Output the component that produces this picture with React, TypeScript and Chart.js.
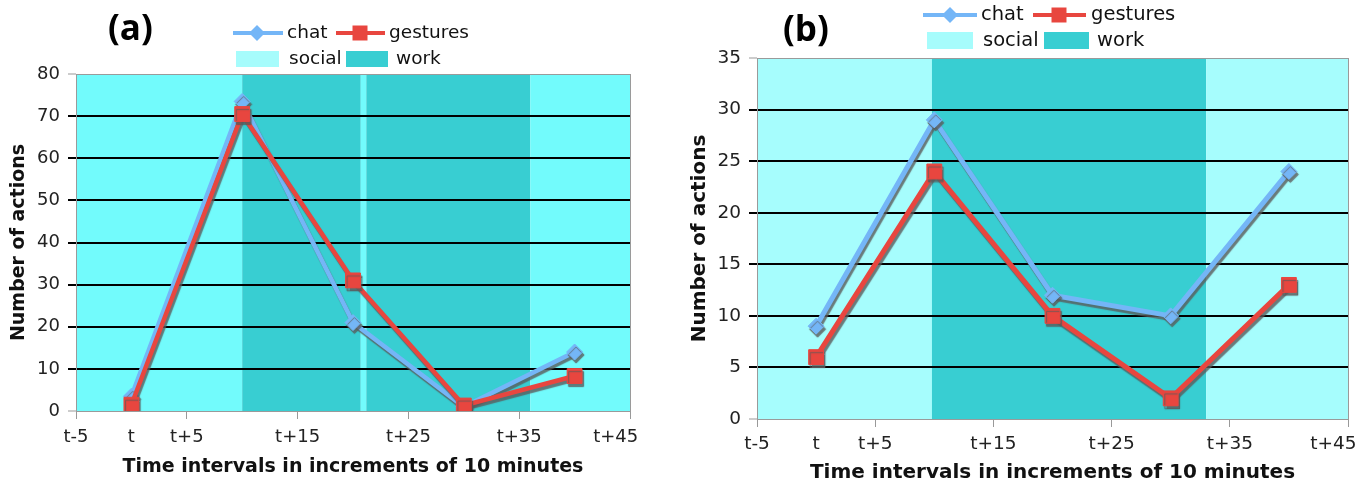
import React, { useEffect, useRef } from 'react';
import { Chart, registerables } from 'chart.js';

Chart.register(...registerables);

// ---------- data ----------
const timeOffsets = [0, 10, 20, 30, 40];
const chatA = [3.5, 73.5, 21, 1, 14];
const gesturesA = [1.5, 70.5, 31, 1.3, 8.3];
const chatB = [9, 29, 12, 10, 24];
const gesturesB = [6, 24, 10, 2, 13];
const tickValues = [-5, 0, 5, 15, 25, 35, 45];
const tickLabels = ['t-5', 't', 't+5', 't+15', 't+25', 't+35', 't+45'];
const seriesNames = ['chat', 'gestures'];
const phaseNames = ['social', 'work'];
// [phase, from, to] in minutes offset
const phasesA: [string, number, number][] = [
  ['social', -5, 10],
  ['work', 10, 20.7],
  ['social', 20.7, 21.2],
  ['work', 21.2, 36],
  ['social', 36, 45],
];
const phasesB: [string, number, number][] = [
  ['social', -5, 9.8],
  ['work', 9.8, 33],
  ['social', 33, 45],
];

// ---------- styles ----------
const CHAT = '#74b6f7';
const GEST = '#e8463f';
const WORK = '#38ced2';
const SOCIAL_LEGEND = '#a6fcfc';
const FONT = '"DejaVu Sans", Verdana, sans-serif';

type Panel = {
  label: string;
  chat: number[];
  gestures: number[];
  phases: [string, number, number][];
  socialColor: string;
  yMax: number;
  yStep: number;
  W: number;
  area: { left: number; right: number; top: number; bottom: number };
  tickFont: number;
  titleFont: number;
  legendFont: number;
  xTickPad: number;
  xTitlePad: number;
  lineWidth: number;
  legend: {
    title: [number, number];
    row1: number;
    row2: number;
    chatLine: [number, number, number];
    chatText: number;
    gestLine: [number, number, number];
    gestText: number;
    swY: [number, number];
    socialSw: [number, number];
    socialText: number;
    workSw: [number, number];
    workText: number;
  };
};

const panels: Panel[] = [
  {
    label: '(a)',
    chat: chatA,
    gestures: gesturesA,
    phases: phasesA,
    socialColor: '#72fbfc',
    yMax: 80,
    yStep: 10,
    W: 680,
    area: { left: 76, right: 630, top: 74, bottom: 411 },
    tickFont: 18,
    titleFont: 19,
    legendFont: 18.5,
    xTickPad: 8,
    xTitlePad: 7,
    lineWidth: 4.5,
    legend: {
      title: [108, 30],
      row1: 33,
      row2: 59,
      chatLine: [233, 283, 257],
      chatText: 287,
      gestLine: [336, 385, 360],
      gestText: 389,
      swY: [51, 67],
      socialSw: [236, 279],
      socialText: 289,
      workSw: [346, 388],
      workText: 396,
    },
  },
  {
    label: '(b)',
    chat: chatB,
    gestures: gesturesB,
    phases: phasesB,
    socialColor: '#a6fdfd',
    yMax: 35,
    yStep: 5,
    W: 687,
    area: { left: 77, right: 668, top: 58, bottom: 419 },
    tickFont: 18.5,
    titleFont: 20,
    legendFont: 19.5,
    xTickPad: 6,
    xTitlePad: 0,
    lineWidth: 5,
    legend: {
      title: [103, 31],
      row1: 15,
      row2: 41,
      chatLine: [243, 297, 270],
      chatText: 301,
      gestLine: [353, 406, 379],
      gestText: 411,
      swY: [32, 49],
      socialSw: [247, 293],
      socialText: 303,
      workSw: [364, 409],
      workText: 417,
    },
  },
];

const H = 485;
const PAD_LAST = '\u00a0'.repeat(5);

function PanelChart({ p }: { p: Panel }) {
  const ref = useRef<HTMLCanvasElement | null>(null);
  useEffect(() => {
    if (!ref.current) return;
    const phaseColor = (name: string) => (name === 'work' ? WORK : p.socialColor);

    const decor = {
      id: 'decor' + p.label,
      beforeDraw(chart: any) {
        const { ctx, chartArea, scales } = chart;
        const x = scales.x;
        ctx.save();
        p.phases.forEach(([name, from, to]) => {
          const x0 = x.getPixelForValue(from);
          const x1 = x.getPixelForValue(to);
          ctx.fillStyle = phaseColor(name);
          ctx.fillRect(x0, chartArea.top, x1 - x0, chartArea.bottom - chartArea.top);
        });
        ctx.restore();
      },
      beforeDatasetsDraw(chart: any) {
        const { ctx, chartArea } = chart;
        ctx.save();
        ctx.strokeStyle = '#9a9a9a';
        ctx.lineWidth = 1;
        ctx.strokeRect(
          Math.round(chartArea.left) + 0.5,
          Math.round(chartArea.top) + 0.5,
          Math.round(chartArea.right - chartArea.left),
          Math.round(chartArea.bottom - chartArea.top)
        );
        ctx.restore();
      },
      beforeDatasetDraw(chart: any) {
        const ctx = chart.ctx;
        ctx.save();
        ctx.shadowColor = 'rgba(90,90,90,0.8)';
        ctx.shadowOffsetX = 1.5;
        ctx.shadowOffsetY = 3;
        ctx.shadowBlur = 1;
      },
      afterDatasetDraw(chart: any) {
        chart.ctx.restore();
      },
      afterDraw(chart: any) {
        const { ctx } = chart;
        const L = p.legend;
        ctx.save();
        // panel label
        ctx.fillStyle = '#000';
        ctx.font = `bold 35px "Open Sans", "DejaVu Sans", sans-serif`;
        ctx.textBaseline = 'middle';
        ctx.textAlign = 'left';
        ctx.fillText(p.label, L.title[0], L.title[1]);

        // series legend
        const drawLineSample = (c: string, seg: [number, number, number], y: number, shape: string) => {
          ctx.strokeStyle = c;
          ctx.lineWidth = 4;
          ctx.beginPath();
          ctx.moveTo(seg[0], y);
          ctx.lineTo(seg[1], y);
          ctx.stroke();
          ctx.fillStyle = c;
          ctx.beginPath();
          if (shape === 'diamond') {
            const r = 8;
            ctx.moveTo(seg[2] - r, y);
            ctx.lineTo(seg[2], y - r);
            ctx.lineTo(seg[2] + r, y);
            ctx.lineTo(seg[2], y + r);
            ctx.closePath();
          } else {
            const s = 7.5;
            ctx.rect(seg[2] - s, y - s, 2 * s, 2 * s);
          }
          ctx.fill();
        };
        drawLineSample(CHAT, L.chatLine, L.row1, 'diamond');
        drawLineSample(GEST, L.gestLine, L.row1, 'square');
        ctx.fillStyle = '#111';
        ctx.font = `${p.legendFont}px ${FONT}`;
        ctx.fillText(seriesNames[0], L.chatText, L.row1);
        ctx.fillText(seriesNames[1], L.gestText, L.row1);

        // phase legend
        ctx.fillStyle = SOCIAL_LEGEND;
        ctx.fillRect(L.socialSw[0], L.swY[0], L.socialSw[1] - L.socialSw[0], L.swY[1] - L.swY[0]);
        ctx.fillStyle = WORK;
        ctx.fillRect(L.workSw[0], L.swY[0], L.workSw[1] - L.workSw[0], L.swY[1] - L.swY[0]);
        ctx.fillStyle = '#111';
        ctx.fillText(phaseNames[0], L.socialText, L.row2);
        ctx.fillText(phaseNames[1], L.workText, L.row2);
        ctx.restore();
      },
    };

    const toPts = (vals: number[]) => vals.map((v, i) => ({ x: timeOffsets[i], y: v }));
    const edge = (v: number) => v === 0 || v === p.yMax;

    const chart = new Chart(ref.current, {
      type: 'line',
      data: {
        datasets: [
          {
            label: seriesNames[0],
            data: toPts(p.chat),
            borderColor: CHAT,
            backgroundColor: CHAT,
            borderWidth: p.lineWidth,
            pointStyle: 'rectRot',
            pointRadius: 8,
            pointBorderWidth: 1,
            pointBorderColor: CHAT,
            pointBackgroundColor: CHAT,
            tension: 0,
            order: 1,
          },
          {
            label: seriesNames[1],
            data: toPts(p.gestures),
            borderColor: GEST,
            backgroundColor: GEST,
            borderWidth: p.lineWidth,
            pointStyle: 'rect',
            pointRadius: 10.5,
            pointBorderWidth: 1,
            pointBorderColor: GEST,
            pointBackgroundColor: GEST,
            tension: 0,
            order: 0,
          },
        ],
      },
      options: {
        responsive: false,
        animation: false,
        events: [],
        layout: { padding: { top: p.area.top, right: p.W - p.area.right, left: 0, bottom: 0 } },
        plugins: { legend: { display: false }, tooltip: { enabled: false }, title: { display: false } },
        scales: {
          x: {
            type: 'linear',
            min: -5,
            max: 45,
            afterBuildTicks: (s: any) => {
              s.ticks = tickValues.map((v) => ({ value: v }));
            },
            afterFit: (s: any) => {
              s.height = H - p.area.bottom;
              s.paddingRight = 0;
              s.paddingLeft = 0;
            },
            ticks: {
              autoSkip: false,
              maxRotation: 0,
              padding: p.xTickPad,
              color: '#222',
              font: { family: FONT, size: p.tickFont },
              callback: (_v: any, i: number) =>
                i === tickLabels.length - 1 ? tickLabels[i] + PAD_LAST : tickLabels[i],
            },
            grid: {
              drawOnChartArea: false,
              tickLength: 8,
              color: '#999',
              tickColor: (c: any) => (c.tick && c.tick.value === 0 ? 'rgba(0,0,0,0)' : '#999'),
            },
            border: { display: false },
            title: {
              display: true,
              text: 'Time intervals in increments of 10 minutes',
              color: '#111',
              font: { family: FONT, size: p.titleFont, weight: 'bold' },
              padding: { top: 0, bottom: p.xTitlePad },
            },
          },
          y: {
            min: 0,
            max: p.yMax,
            afterFit: (s: any) => {
              s.width = p.area.left;
            },
            ticks: {
              stepSize: p.yStep,
              padding: 8,
              color: '#222',
              font: { family: FONT, size: p.tickFont },
            },
            grid: {
              tickLength: 8,
              lineWidth: 2,
              color: (c: any) => (c.tick && edge(c.tick.value) ? 'rgba(0,0,0,0)' : '#000'),
              tickColor: (c: any) => (c.tick && edge(c.tick.value) ? '#999' : '#000'),
              tickWidth: (c: any) => (c.tick && edge(c.tick.value) ? 1 : 2),
            } as any,
            border: { display: false },
            title: {
              display: true,
              text: 'Number of actions',
              color: '#111',
              font: { family: FONT, size: p.titleFont, weight: 'bold' },
              padding: { top: 8, bottom: 0 },
            },
          },
        },
      },
      plugins: [decor],
    } as any);
    return () => chart.destroy();
  }, [p]);
  return <canvas ref={ref} width={p.W} height={H} style={{ display: 'block', width: p.W, height: H }} />;
}

export default function App() {
  return (
    <div style={{ position: 'absolute', left: 0, top: 0, width: 1367, height: H, display: 'flex', background: '#fff' }}>
      {panels.map((p) => (
        <PanelChart key={p.label} p={p} />
      ))}
    </div>
  );
}
